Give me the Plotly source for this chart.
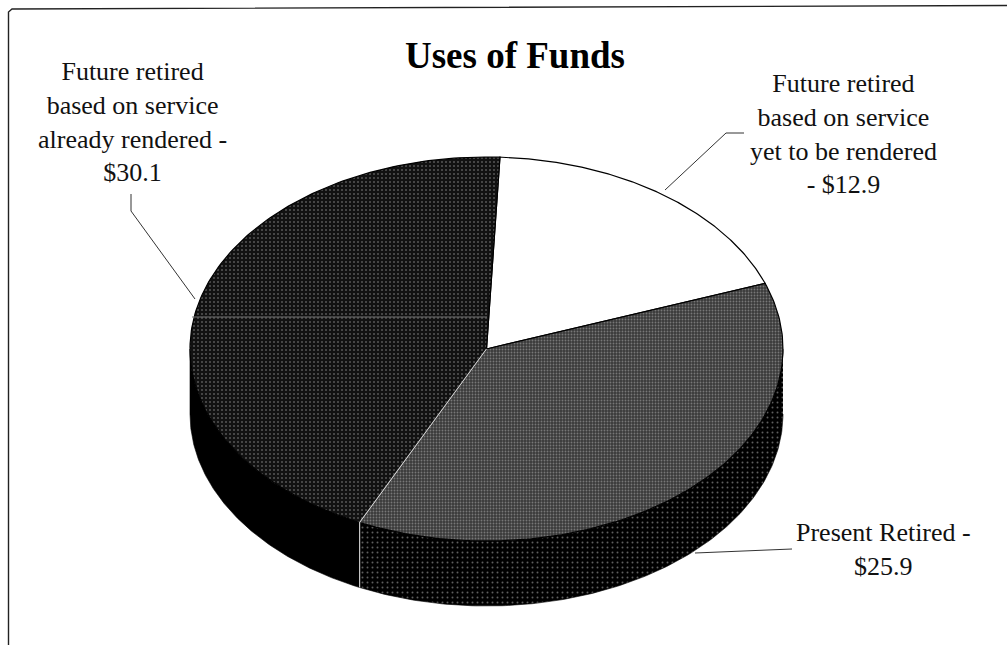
import numpy as np
import plotly.graph_objects as go

labels = ["Future retired<br>based on service<br>yet to be rendered<br>- $12.9",
          "Present Retired -<br>$25.9",
          "Future retired<br>based on service<br>already rendered -<br>$30.1"]
values = [12.9, 25.9, 30.1]
title = "Uses of Funds"

CX, CY, RX, RY, DEPTH = 486.5, 349, 296.5, 192, 65
START = 2.6
SERIF = "Liberation Serif"


def pt(deg, dy=0.0):
    a = np.radians(deg)
    return CX + RX * np.sin(a), CY - RY * np.cos(a) + dy


def arc(a, b, dy=0.0):
    return pt(np.linspace(a, b, 160), dy)


spans = 360 * np.array(values) / sum(values)
edges = START + np.concatenate([[0], np.cumsum(spans)])

fig = go.Figure()

# frame
fig.add_trace(go.Scatter(x=[8.5, 8.5, 12, 1007], y=[645, 12, 9, 5.5], mode="lines",
                         line=dict(color="#222222", width=1.4), hoverinfo="skip"))


def side(a, b, pattern):
    xt, yt = arc(a, b)
    xb, yb = arc(b, a, DEPTH)
    fig.add_trace(go.Scatter(x=np.r_[xt, xb], y=np.r_[yt, yb], mode="lines",
                             fill="toself", fillcolor="#000000", fillpattern=pattern,
                             line=dict(color="#000000", width=0.6), hoverinfo="skip"))


# side wall: only the front half of the ellipse shows
side(90, edges[2], dict(shape=".", size=5, solidity=0.12, fgcolor="#bbbbbb", bgcolor="#000000"))
side(edges[2], 270, dict(shape="", bgcolor="#000000"))

top_styles = [
    dict(fill="#ffffff", pattern=None),
    dict(fill="#3a3a3a", pattern=dict(shape=".", size=3, solidity=0.3, fgcolor="#b4b4b4", bgcolor="#3a3a3a")),
    dict(fill="#111111", pattern=dict(shape=".", size=4, solidity=0.2, fgcolor="#999999", bgcolor="#111111")),
]
for i, st in enumerate(top_styles):
    xa, ya = arc(edges[i], edges[i + 1])
    kw = dict(fillpattern=st["pattern"]) if st["pattern"] else {}
    fig.add_trace(go.Scatter(x=np.r_[CX, xa, CX], y=np.r_[CY, ya, CY], mode="lines",
                             fill="toself", fillcolor=st["fill"],
                             line=dict(color="#000000", width=1.2), hoverinfo="skip", **kw))

# light seams between the two dark slices, on top and down the wall
xs, ys = pt(edges[2])
fig.add_trace(go.Scatter(x=[CX, xs, xs], y=[CY, ys, ys + DEPTH], mode="lines",
                         line=dict(color="#d8d8d8", width=1.1), hoverinfo="skip"))

# faint horizontal streak across the dark slice
fig.add_trace(go.Scatter(x=[192, 487], y=[317, 317], mode="lines",
                         line=dict(color="#777777", width=1), hoverinfo="skip"))

# leader lines
for lx, ly in [([131, 131, 195], [194, 211, 299]),
               ([744, 726, 665], [133, 133, 190]),
               ([695, 792], [553, 549])]:
    fig.add_trace(go.Scatter(x=lx, y=ly, mode="lines",
                             line=dict(color="#333333", width=1), hoverinfo="skip"))

anns = [(132, 122, labels[2]), (843, 134, labels[0]), (883, 549, labels[1])]
for ax, ay, text in anns:
    fig.add_annotation(x=ax, y=ay, text=text, showarrow=False, align="center",
                       xanchor="center", yanchor="middle",
                       font=dict(family=SERIF, size=26, color="#111111"))
fig.add_annotation(x=515, y=55.5, text="<b>%s</b>" % title, showarrow=False,
                   xanchor="center", yanchor="middle",
                   font=dict(family=SERIF, size=37, color="#000000"))

fig.update_layout(width=1007, height=645, margin=dict(l=0, r=0, t=0, b=0),
                  paper_bgcolor="#ffffff", plot_bgcolor="#ffffff", showlegend=False,
                  xaxis=dict(range=[0, 1007], visible=False, fixedrange=True),
                  yaxis=dict(range=[645, 0], visible=False, fixedrange=True))
fig.write_html("out.html", config=dict(displayModeBar=False),
               post_script="document.body.style.margin='0';document.body.style.overflow='hidden';")
